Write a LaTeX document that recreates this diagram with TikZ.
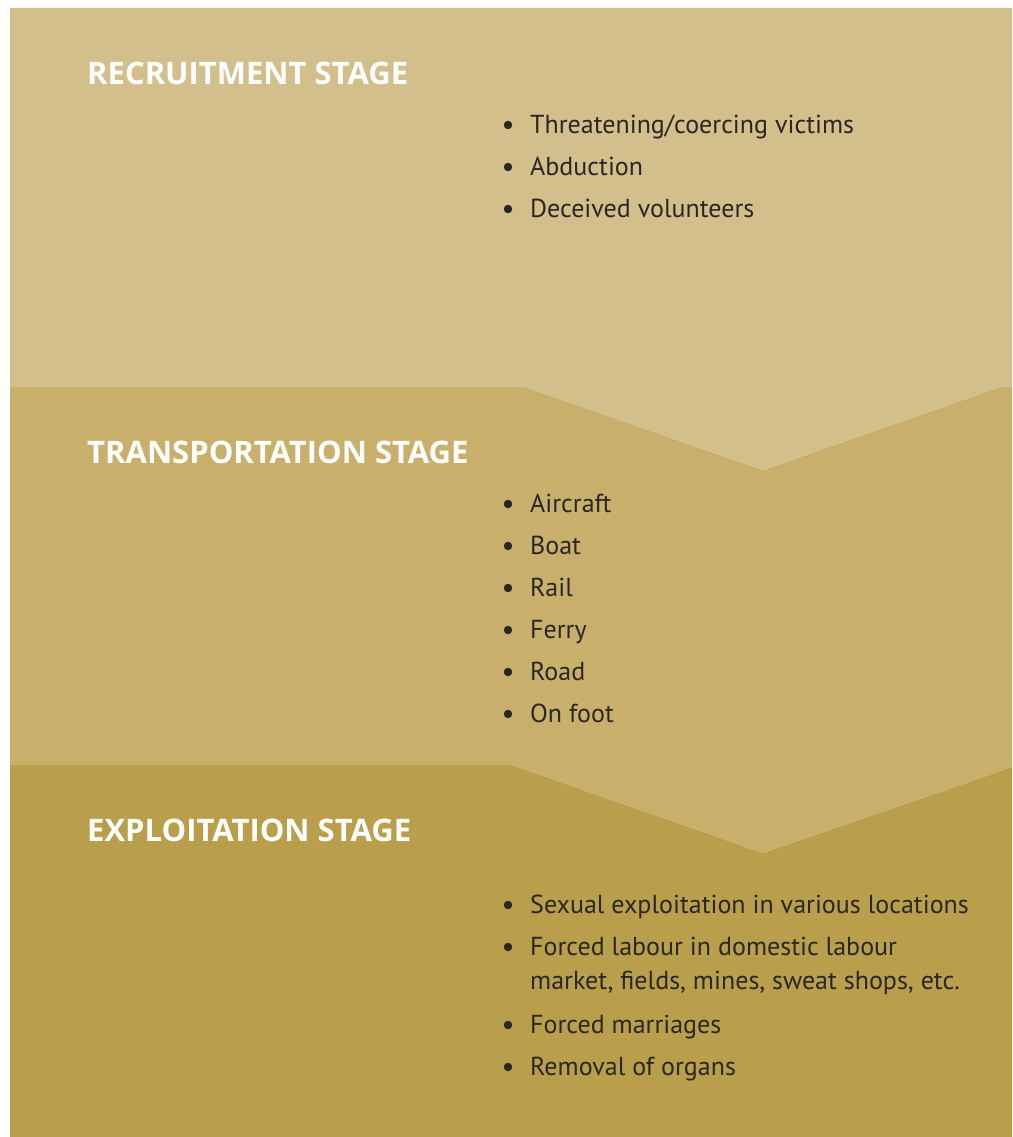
\documentclass[tikz,border=0pt]{standalone}
\usepackage{fontspec}
\setmainfont{PT Sans}
\newfontfamily\headfont{Open Sans}
\definecolor{bgA}{HTML}{D3BF8C}
\definecolor{bgB}{HTML}{C8B06C}
\definecolor{bgC}{HTML}{B99E4B}
\definecolor{ink}{HTML}{2A2723}
\tikzset{
  heading/.style={anchor=base west, inner sep=0pt, text=white, font=\headfont\fontsize{31}{33}\selectfont\bfseries},
  item/.style={anchor=base west, inner sep=0pt, text=ink, font=\fontsize{26}{34}\selectfont},
  dot/.style={circle, fill=ink, inner sep=0pt, minimum size=8.5pt}
}
\begin{document}
\begin{tikzpicture}[x=1pt,y=-1pt]
\useasboundingbox (0,0) rectangle (1012,1137);
\fill[white] (0,0) rectangle (1012,1137);
% stage backgrounds
\fill[bgC] (10,765) -- (512,765) -- (763,853) -- (1012,767) -- (1012,1137) -- (10,1137) -- cycle;
\fill[bgB] (10,387) -- (525,387) -- (763,470) -- (1000,387) -- (1012,387) -- (1012,767) -- (763,853) -- (512,765) -- (10,765) -- cycle;
\fill[bgA] (10,8) -- (1012,8) -- (1012,387) -- (1000,387) -- (763,470) -- (525,387) -- (10,387) -- cycle;
% headings
\node[heading] (h1) at (87,85) {RECRUITMENT STAGE};
\node[heading] (h2) at (87,463) {TRANSPORTATION STAGE};
\node[heading] (h3) at (87,841) {EXPLOITATION STAGE};
% recruitment
\node[item] (r1) at (530,133) {Threatening/coercing victims};
\node[item] (r2) at (530,175) {Abduction};
\node[item] (r3) at (530,217) {Deceived volunteers};
\node[dot] (dr1) at (508,125) {};
\node[dot] (dr2) at (508,167) {};
\node[dot] (dr3) at (508,209) {};
% transportation
\node[item] (t1) at (530,512) {Aircraft};
\node[item] (t2) at (530,554) {Boat};
\node[item] (t3) at (530,596) {Rail};
\node[item] (t4) at (530,638) {Ferry};
\node[item] (t5) at (530,680) {Road};
\node[item] (t6) at (530,722) {On foot};
\foreach \y [count=\i] in {504,546,588,630,672,714} \node[dot] (dt\i) at (508,\y) {};
% exploitation
\node[item] (e1) at (530,913) {Sexual exploitation in various locations};
\node[item] (e2) at (530,955) {Forced labour in domestic labour};
\node[item] (e2b) at (530,989) {market, fields, mines, sweat shops, etc.};
\node[item] (e3) at (530,1033) {Forced marriages};
\node[item] (e4) at (530,1075) {Removal of organs};
\foreach \y [count=\i] in {905,947,1025,1067} \node[dot] (de\i) at (508,\y) {};
\end{tikzpicture}
\end{document}
